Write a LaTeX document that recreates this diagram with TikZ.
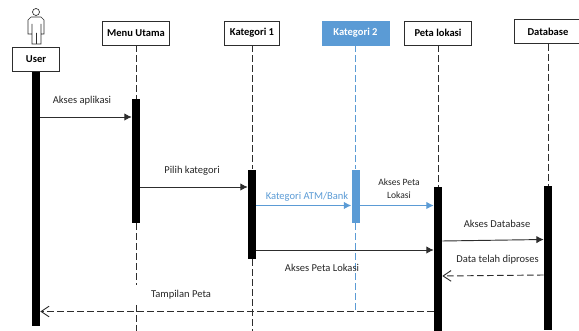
\documentclass[tikz,border=0pt]{standalone}
\usepackage{fontspec}
\setmainfont{Carlito}
\usepackage{tikz}
\usetikzlibrary{arrows.meta, calc}
\definecolor{katblue}{RGB}{91,155,213}
\definecolor{linegray}{RGB}{45,45,45}
\tikzset{
  headbox/.style={draw=linegray, line width=0.7pt, fill=white, minimum height=18pt, inner sep=0pt, font=\fontsize{7.9}{9}\selectfont\bfseries},
  bar/.style={fill=black, inner sep=0pt, minimum width=6pt},
  lifeline/.style={draw=linegray, line width=0.7pt, dash pattern=on 5pt off 2.5pt},
  msg/.style={draw=linegray, line width=0.7pt, -{Latex[length=5.5pt,width=5.5pt]}},
  reply/.style={draw=linegray, line width=0.7pt, dash pattern=on 5pt off 2.5pt, -{Straight Barb[length=6pt,width=8pt]}},
  msglabel/.style={font=\fontsize{7.9}{9}\selectfont, text=black!85, align=center},
}
\begin{document}
\begin{tikzpicture}[x=0.75pt, y=0.75pt]
\useasboundingbox (0,0) rectangle (579,-331);
% actor figure
\draw[linegray, line width=0.5pt] (36,-12) circle (3.5);
\draw[linegray, line width=0.5pt] (31,-17) -- (41,-17) -- (44,-20) -- (44,-34) -- (41,-34) -- (41,-24)
  (41,-34) -- (41,-44) -- (32,-44) -- (32,-24) (32,-34) -- (28,-34) -- (28,-20) -- (31,-17)
  (36.5,-33) -- (36.5,-44);
% head boxes
\foreach \name/\txt/\cx/\cy/\w in {user/User/36/59.5/35.25, menu/Menu Utama/136/33/50.25, katA/Kategori 1/252/33/41.6, peta/Peta lokasi/438/33/50.25, data/Database/548/31.5/50}{
  \node[headbox, minimum width=\w pt] (\name) at (\cx,-\cy) {\txt};
}
\node[headbox, draw=katblue, fill=katblue, text=white, minimum width=50.25pt] (katB) at (355.5,-33) {Kategori 2};
% activation bars
\node[bar, minimum height=190.5pt] (barUser) at (36,-199) {};
\node[bar, minimum height=93pt] (barMenu) at (136,-161) {};
\node[bar, minimum height=67pt] (barKatA) at (252,-214.25) {};
\node[bar, fill=katblue, minimum height=40pt] (barKatB) at (355.5,-196.25) {};
\node[bar, minimum height=108pt] (barPeta) at (438,-259) {};
\node[bar, minimum height=108pt] (barData) at (548,-258) {};
% lifelines
\coordinate (gapMenuA) at (136,-285);
\coordinate (gapMenuB) at (136,-305);
\coordinate (endMenu) at (136,-331);
\coordinate (endKatA) at (252,-331);
\coordinate (endKatB) at (355.5,-312);
\draw[lifeline] (menu) -- (barMenu);
\draw[lifeline] (barMenu) -- (gapMenuA);
\draw[lifeline] (gapMenuB) -- (endMenu);
\draw[lifeline] (katA) -- (barKatA);
\draw[lifeline] (barKatA) -- (endKatA);
\draw[lifeline, draw=katblue] (katB) -- (barKatB);
\draw[lifeline, draw=katblue] (barKatB) -- (endKatB);
\draw[lifeline] (peta) -- (barPeta);
\draw[lifeline] (data) -- (barData);
% messages
\coordinate (yApp) at (0,-117);
\coordinate (yPilih) at (0,-187);
\coordinate (yAtm) at (0,-205.5);
\coordinate (yLok) at (0,-250);
\coordinate (yDbA) at (0,-241);
\coordinate (yDbB) at (0,-239.5);
\coordinate (yBackA) at (0,-275);
\coordinate (yBackB) at (0,-276);
\coordinate (yTamp) at (0,-311.5);
\draw[msg] (barUser.east |- yApp) -- (barMenu.west |- yApp);
\draw[msg] (barMenu.east |- yPilih) -- (barKatA.west |- yPilih);
\draw[msg, draw=katblue, {-{Latex[length=5.5pt,width=5.5pt,katblue]}}] (barKatA.east |- yAtm) -- (barKatB.west |- yAtm);
\draw[msg, draw=katblue, {-{Latex[length=5.5pt,width=5.5pt,katblue]}}] (barKatB.east |- yAtm) -- (barPeta.west |- yAtm);
\draw[msg] (barKatA.east |- yLok) -- (barPeta.west |- yLok);
\draw[msg] (barPeta.east |- yDbA) -- (barData.west |- yDbB);
\draw[reply] (barData.west |- yBackA) -- (barPeta.east |- yBackB);
\draw[reply] (barPeta.west |- yTamp) -- (barUser.east |- yTamp);
% labels
\node[msglabel] (lblApp) at (82,-101) {Akses aplikasi};
\node[msglabel] (lblPilih) at (192,-171) {Pilih kategori};
\node[msglabel, text=katblue] (lblAtm) at (307,-197) {Kategori ATM/Bank};
\node[msglabel, font=\fontsize{7.2}{9.5}\selectfont] (lblLok) at (399,-189) {Akses Peta\\Lokasi};
\node[msglabel] (lblPeta) at (322,-268) {Akses Peta Lokasi};
\node[msglabel] (lblDb) at (497,-224) {Akses Database};
\node[msglabel] (lblProses) at (497.5,-260) {Data telah diproses};
\node[msglabel] (lblTamp) at (181,-295) {Tampilan Peta};
\end{tikzpicture}
\end{document}
